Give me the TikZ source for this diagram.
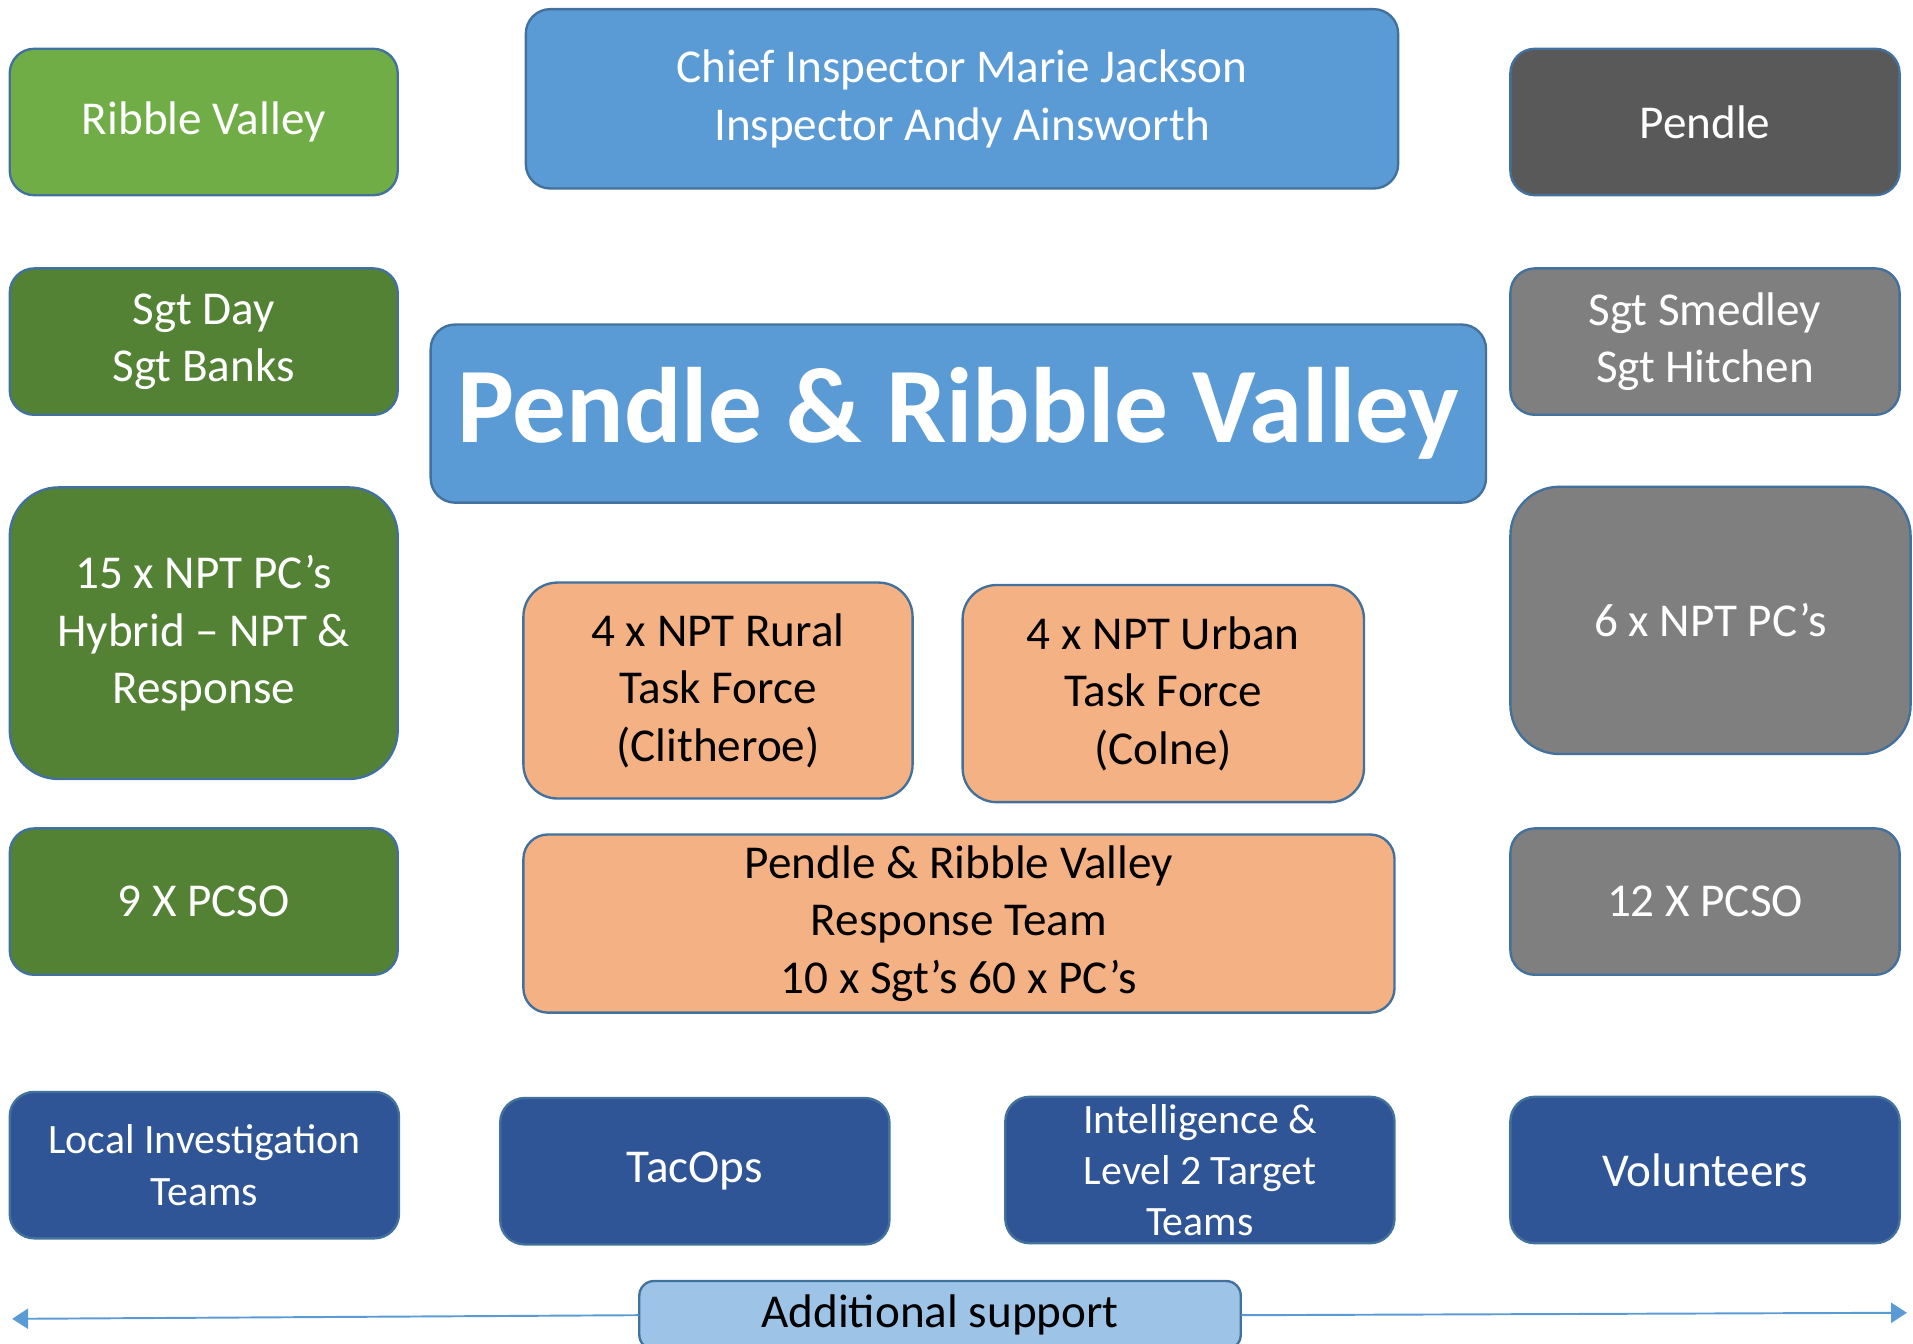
\documentclass[tikz,border=0pt]{standalone}
\usepackage{fontspec}
\setmainfont{Carlito}
\usetikzlibrary{arrows.meta}
\definecolor{edge}{HTML}{41719C}
\definecolor{midblue}{HTML}{5B9BD5}
\definecolor{navy}{HTML}{2F5597}
\definecolor{paleblue}{HTML}{9DC3E6}
\definecolor{lightgreen}{HTML}{70AD47}
\definecolor{darkgreen}{HTML}{548235}
\definecolor{darkgrey}{HTML}{595959}
\definecolor{midgrey}{HTML}{7F7F7F}
\definecolor{peach}{HTML}{F4B183}
\tikzset{
  box/.style={draw=edge, line width=1.1pt, rounded corners=0.4cm, align=center, inner sep=0pt,
    text=white, font=\fontsize{22}{26.8}\selectfont},
  dims/.style 2 args={minimum width=#1*0.02cm, minimum height=#2*0.02cm},
  peachbox/.style={box, fill=peach, text=black, rounded corners=0.56cm},
  bigbox/.style={box, rounded corners=0.8cm},
  teambox/.style={box, fill=navy, font=\fontsize{19.5}{23.8}\selectfont},
  reach/.style={midblue, line width=0.9pt, -{Triangle[length=0.26cm, width=0.33cm]}}
}
\begin{document}
\begin{tikzpicture}[x=0.02cm, y=-0.02cm, line join=round, line cap=round]
\useasboundingbox (0,0) rectangle (1568,1101);
\path
  (167,100) node[box, dims={318}{120}, fill=lightgreen] (ribble) {Ribble Valley}
  (788.5,81) node[box, dims={715}{147}, fill=midblue] (chief) {Chief Inspector Marie Jackson\\Inspector Andy Ainsworth}
  (1397.5,100) node[box, dims={319}{120}, fill=darkgrey] (pendle) {Pendle}
  (167,280) node[box, dims={318}{120}, fill=darkgreen] (sgtrv) {Sgt Day\\Sgt Banks}
  (785.5,339) node[box, dims={865}{146}, fill=midblue, font=\fontsize{50}{54}\selectfont\bfseries] (title) {Pendle \& Ribble Valley}
  (1397.5,280) node[box, dims={319}{120}, fill=midgrey] (sgtp) {Sgt Smedley\\Sgt Hitchen}
  (167,519) node[bigbox, dims={318}{239}, fill=darkgreen] (hybrid) {15 x NPT PC’s\\Hybrid – NPT \&\\Response}
  (588.5,566) node[peachbox, dims={319}{177}] (rural) {4 x NPT Rural\\Task Force\\(Clitheroe)}
  (953.5,568.5) node[peachbox, dims={329}{178}] (urban) {4 x NPT Urban\\Task Force\\(Colne)}
  (1402,508.5) node[bigbox, dims={328}{219}, fill=midgrey] (npt) {6 x NPT PC’s}
  (167,739) node[box, dims={318}{120}, fill=darkgreen] (pcsorv) {9 X PCSO}
  (786,757) node[peachbox, dims={714}{146}, rounded corners=0.4cm] (response) {Pendle \& Ribble Valley\\Response Team\\10 x Sgt’s 60 x PC’s}
  (1397.5,739) node[box, dims={319}{120}, fill=midgrey] (pcsop) {12 X PCSO}
  (167.5,955) node[teambox, dims={319}{120}] (local) {Local Investigation\\Teams}
  (569.5,960) node[box, dims={319}{120}, fill=navy] (tacops) {TacOps}
  (983.5,959) node[teambox, dims={319}{120}] (intel) {Intelligence \&\\Level 2 Target\\Teams}
  (1397.5,959) node[box, dims={319}{120}, fill=navy] (vols) {Volunteers}
  (770.5,1078) node[box, dims={493}{56}, fill=paleblue, text=black, rounded corners=0.24cm] (support) {Additional support}
  (10,1081) coordinate (lend)
  (1563,1076) coordinate (rend);
\draw[reach] (support.west) -- (lend);
\draw[reach] (support.east) -- (rend);
\end{tikzpicture}
\end{document}
